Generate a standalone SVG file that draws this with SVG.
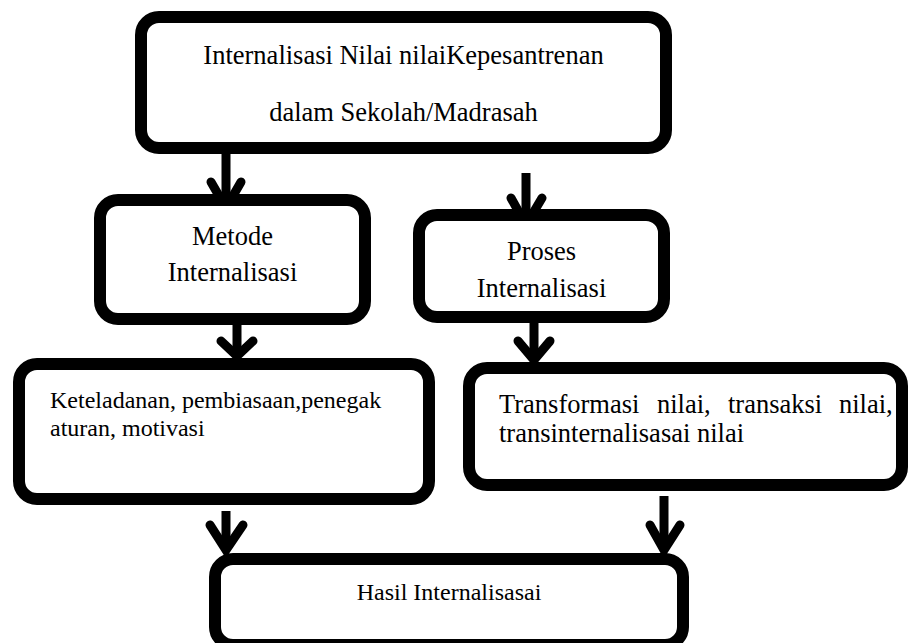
<svg xmlns="http://www.w3.org/2000/svg" width="908" height="643" viewBox="0 0 908 643">
<style>
.box{fill:#fff;stroke:#000;stroke-width:12}
text{font-family:'Liberation Serif','Times New Roman',Tinos,'DejaVu Serif',serif;fill:#000}
.c{text-anchor:middle}
.f26{font-size:26.5px}
.f24{font-size:24px}
.shaft{stroke:#000;stroke-width:9;fill:none}
.head{stroke:#000;stroke-width:9;fill:none;stroke-linecap:round;stroke-linejoin:miter}
</style>
<rect width="908" height="643" fill="#fff"/>
<g id="connectors">
<line class="shaft" x1="226" y1="154" x2="226" y2="208"/>
<polyline class="head" points="211,182 226,208 241,182"/>
<line class="shaft" x1="526" y1="173" x2="526" y2="225"/>
<polyline class="head" points="511,198 526,225 542,198"/>
<line class="shaft" x1="237" y1="325" x2="237" y2="356"/>
<polyline class="head" points="221,341 237,356 253,341"/>
<line class="shaft" x1="534" y1="312" x2="534" y2="360"/>
<polyline class="head" points="518,341 534,360 550,341"/>
<line class="shaft" x1="226" y1="511" x2="226" y2="550"/>
<polyline class="head" points="210,525 226,550 243,525"/>
<line class="shaft" x1="664" y1="496" x2="664" y2="550"/>
<polyline class="head" points="650,525 664,550 680,525"/>
</g>
<g id="n-top">
<rect class="box" x="141" y="17" width="525" height="131" rx="18"/>
<text class="c f26" x="403.5" y="64">Internalisasi Nilai nilaiKepesantrenan</text>
<text class="c f26" x="403.5" y="121">dalam Sekolah/Madrasah</text>
</g>
<g id="n-metode">
<rect class="box" x="100" y="200" width="265" height="119" rx="18"/>
<text class="c f26" x="232.5" y="245">Metode</text>
<text class="c f26" x="232.5" y="281">Internalisasi</text>
</g>
<g id="n-proses">
<rect class="box" x="419" y="215" width="245" height="102" rx="18"/>
<text class="c f26" x="541.5" y="260">Proses</text>
<text class="c f26" x="541.5" y="297">Internalisasi</text>
</g>
<line class="shaft" x1="534" y1="312" x2="534" y2="318"/>
<g id="n-metode-hasil">
<rect class="box" x="19" y="364" width="410" height="135" rx="18"/>
<text class="f24" x="50" y="408">Keteladanan, pembiasaan,penegak</text>
<text class="f24" x="50" y="436">aturan, motivasi</text>
</g>
<g id="n-proses-hasil">
<rect class="box" x="469" y="368" width="433" height="117" rx="18"/>
<text class="f26" y="413"><tspan x="499">Transformasi</tspan><tspan x="657">nilai,</tspan><tspan x="728">transaksi</tspan><tspan x="839">nilai,</tspan></text>
<text class="f26" x="499" y="442">transinternalisasai nilai</text>
</g>
<g id="n-hasil">
<rect class="box" x="215" y="559" width="468" height="86" rx="18"/>
<text class="c f24" x="449" y="600">Hasil Internalisasai</text>
</g>
</svg>
